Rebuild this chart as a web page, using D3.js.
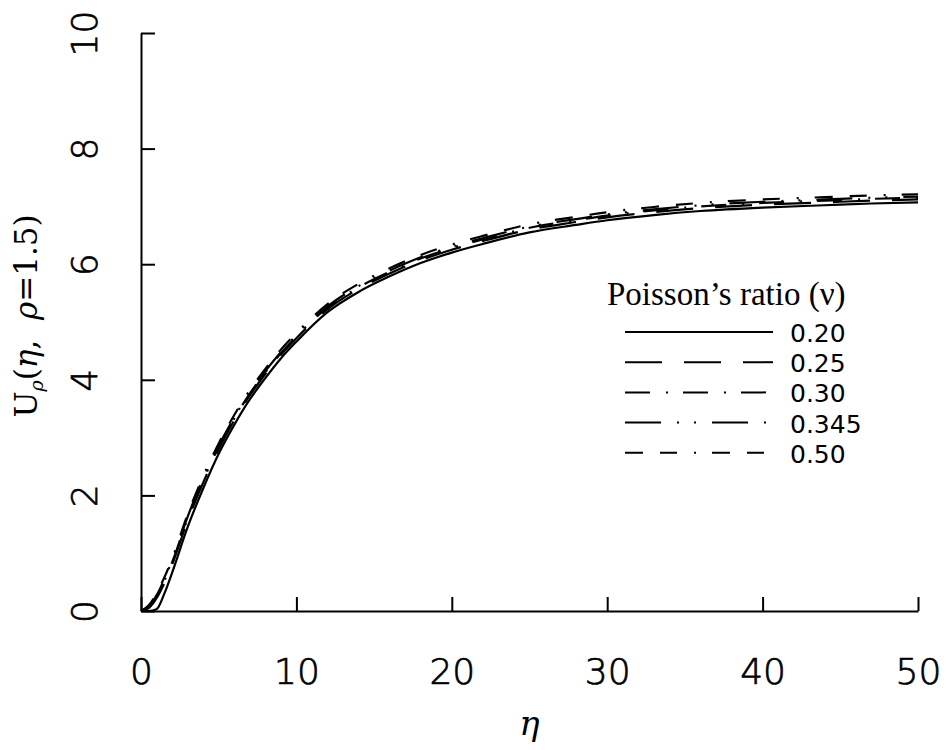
<!DOCTYPE html>
<html>
<head>
<meta charset="utf-8">
<script src="https://cdn.jsdelivr.net/npm/d3@7"></script>
<style>
body{margin:0;background:#fff;}
.tick text{font-family:"DejaVu Sans",sans-serif;font-weight:200;fill:#000;stroke:#000;stroke-width:0.7px;}
</style>
</head>
<body>
<svg id="graph"></svg>
<script>
var eta = [0, 0.5, 1, 1.5, 2, 3, 4, 5, 6, 7, 8, 9, 10, 12, 14, 16, 18, 20, 22, 25, 28, 30, 33, 36, 40, 44, 47, 50]

var nu020 = [0, 0, 0.03, 0.30, 0.66, 1.45, 2.12, 2.72, 3.22, 3.66, 4.03, 4.37, 4.66, 5.17, 5.52, 5.79, 6.02, 6.20, 6.35, 6.55, 6.68, 6.76, 6.85, 6.92, 6.98, 7.02, 7.05, 7.07]
var nu025 = [0, 0.05, 0.22, 0.48, 0.80, 1.56, 2.22, 2.80, 3.30, 3.73, 4.10, 4.43, 4.72, 5.22, 5.57, 5.84, 6.07, 6.25, 6.40, 6.60, 6.73, 6.81, 6.90, 6.97, 7.03, 7.07, 7.10, 7.12]
var nu030 = [0, 0.07, 0.25, 0.52, 0.84, 1.60, 2.26, 2.84, 3.33, 3.76, 4.13, 4.46, 4.75, 5.25, 5.60, 5.87, 6.10, 6.28, 6.43, 6.63, 6.76, 6.84, 6.93, 7.00, 7.06, 7.10, 7.13, 7.15]
var nu0345 = [0, 0.08, 0.27, 0.55, 0.87, 1.63, 2.29, 2.86, 3.35, 3.78, 4.15, 4.48, 4.77, 5.27, 5.62, 5.89, 6.12, 6.30, 6.45, 6.65, 6.78, 6.86, 6.95, 7.02, 7.08, 7.12, 7.15, 7.17]
var nu050 = [0, 0.10, 0.30, 0.58, 0.90, 1.67, 2.33, 2.90, 3.39, 3.82, 4.19, 4.52, 4.81, 5.31, 5.66, 5.93, 6.16, 6.34, 6.49, 6.69, 6.82, 6.90, 6.99, 7.06, 7.12, 7.16, 7.19, 7.21]

var seriesNames = ["0.20", "0.25", "0.30", "0.345", "0.50"]
var seriesValues = [nu020, nu025, nu030, nu0345, nu050]

var xTicks = [0, 10, 20, 30, 40, 50]
var yTicks = [0, 2, 4, 6, 8, 10]

// line styles per series (same order as seriesNames)
var dashes = ["none", "37,22", "25,16,2,15", "36,16,2,15,2,16", "18,17,17,17,2,16"]

var screen = {width:949, height:750}
var margins = {left:141, right:31, top:33, bottom:139}

var graph = {
    width: screen.width - margins.left - margins.right,
    height: screen.height - margins.top - margins.bottom
}

var svg = d3.select("#graph")
    .attr("width", screen.width)
    .attr("height", screen.height)

var xScale = d3.scaleLinear()
    .domain([0, 50])
    .range([margins.left, margins.left + graph.width])

var yScale = d3.scaleLinear()
    .domain([0, 10])
    .range([margins.top + graph.height, margins.top])

var drawAxes = function(){
    var xAxis = d3.axisBottom(xScale)
        .tickValues(xTicks)
        .tickSizeInner(-14)
        .tickSizeOuter(0)
        .tickFormat(d3.format("d"))

    var yAxis = d3.axisLeft(yScale)
        .tickValues(yTicks)
        .tickSizeInner(-14)
        .tickSizeOuter(0)
        .tickFormat(d3.format("d"))

    var gx = svg.append("g")
        .attr("transform", "translate(0," + yScale(0) + ")")
        .call(xAxis)
    gx.selectAll("path, line").attr("stroke", "#000").attr("stroke-width", 2)
    gx.selectAll("text")
        .attr("y", 73)
        .attr("dy", null)
        .attr("font-size", 36)

    var gy = svg.append("g")
        .attr("transform", "translate(" + xScale(0) + ",0)")
        .call(yAxis)
    gy.selectAll("path, line").attr("stroke", "#000").attr("stroke-width", 2)
    gy.selectAll("text")
        .attr("x", null)
        .attr("dy", null)
        .attr("text-anchor", "middle")
        .attr("transform", "translate(-44,0) rotate(-90)")
        .attr("font-size", 36)
}

var drawLines = function(){
    var line = d3.line()
        .x(function(d, i){ return xScale(eta[i]) })
        .y(function(d){ return yScale(d) })
        .curve(d3.curveMonotoneX)

    svg.append("g")
        .selectAll("path")
        .data(seriesValues)
        .enter()
        .append("path")
        .attr("d", line)
        .attr("fill", "none")
        .attr("stroke", "#000")
        .attr("stroke-width", 2.2)
        .attr("stroke-dasharray", function(d, i){ return dashes[i] })
}

var drawLabels = function(){
    svg.append("text")
        .attr("x", (xScale(0) + xScale(50)) / 2)
        .attr("y", 735)
        .attr("text-anchor", "middle")
        .attr("font-family", "DejaVu Serif, serif")
        .attr("font-style", "italic")
        .attr("font-size", 34)
        .text("η")

    var ylab = svg.append("text")
        .attr("transform", "translate(37,316) rotate(-90)")
        .attr("text-anchor", "middle")
        .attr("font-family", "DejaVu Serif, serif")
        .attr("font-size", 31)
    ylab.append("tspan").text("U")
    ylab.append("tspan").attr("font-style", "italic").attr("font-size", 19).attr("dy", 6).text("ρ")
    ylab.append("tspan").attr("dy", -6).text("(")
    ylab.append("tspan").attr("font-style", "italic").text("η")
    ylab.append("tspan").text(",\u00a0\u00a0")
    ylab.append("tspan").attr("font-style", "italic").text("ρ")
    ylab.append("tspan").text("=1.5)")
}

var drawLegend = function(){
    var legend = svg.append("g")
        .attr("transform", "translate(607,305)")

    legend.append("text")
        .attr("x", 0)
        .attr("y", 0)
        .attr("font-family", "Liberation Serif, Times New Roman, serif")
        .attr("font-size", 33)
        .text("Poisson\u2019s ratio (\u03bd)")

    var entries = legend.selectAll("g.entry")
        .data(seriesNames)
        .enter()
        .append("g")
        .attr("class", "entry")
        .attr("transform", function(d, i){ return "translate(0," + (37 + i * 30.2) + ")" })

    entries.append("line")
        .attr("x1", 18)
        .attr("x2", 166)
        .attr("y1", -10)
        .attr("y2", -10)
        .attr("stroke", "#000")
        .attr("stroke-width", 2)
        .attr("stroke-dasharray", function(d, i){ return dashes[i] })

    entries.append("text")
        .attr("x", 183)
        .attr("y", 0)
        .attr("font-family", "DejaVu Sans, sans-serif")
        .attr("font-size", 25)
        .text(function(d){ return d })
}

drawLines()
drawAxes()
drawLabels()
drawLegend()
</script>
</body>
</html>
